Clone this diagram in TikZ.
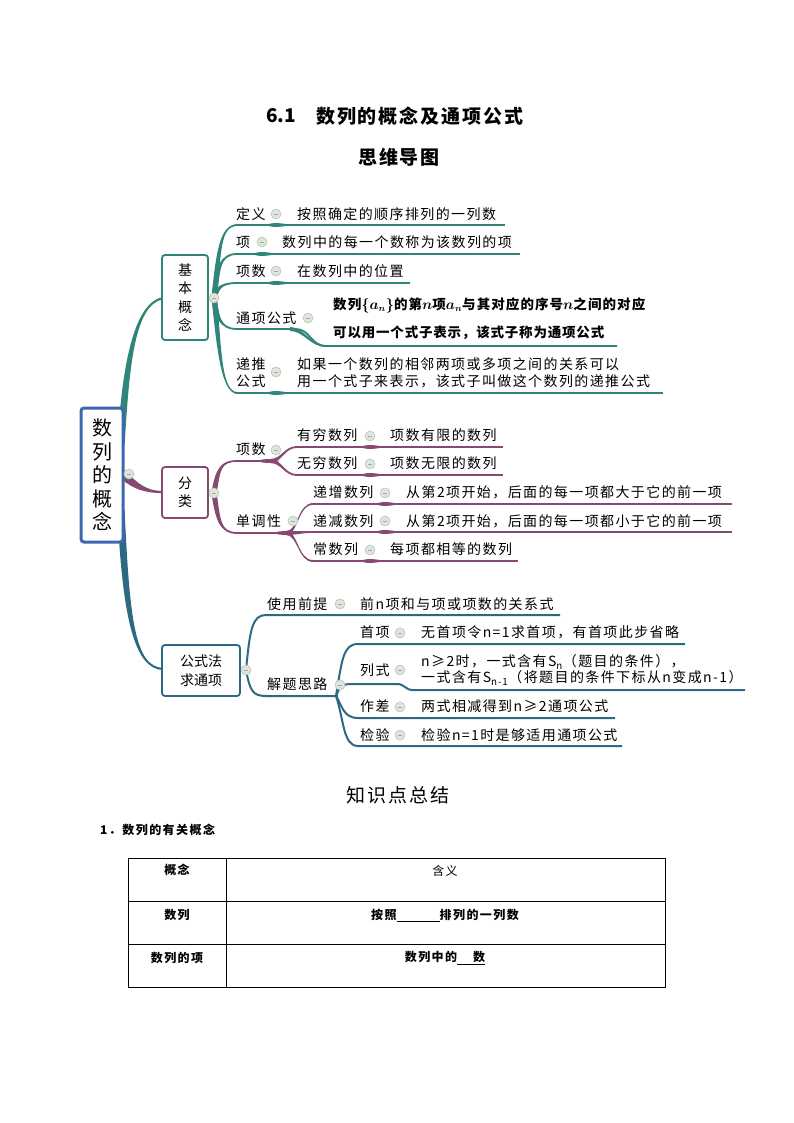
\documentclass[tikz,border=0pt]{standalone}
\usepackage{fontspec}
\usetikzlibrary{calc}
\newfontfamily\cjk{Noto Sans CJK SC}
\newfontfamily\mmf[LetterSpace=10]{Noto Sans CJK SC}
\newfontfamily\mmbf[LetterSpace=8]{Noto Sans CJK SC}
\newfontfamily\mmcf[LetterSpace=6]{Noto Sans CJK SC}
\newfontfamily\ttlf[LetterSpace=10]{Noto Sans CJK SC}
\newfontfamily\tabf[LetterSpace=12]{Noto Sans CJK SC}
\definecolor{rootblue}{RGB}{61,104,176}
\definecolor{tealc}{RGB}{47,133,121}
\definecolor{purc}{RGB}{134,74,114}
\definecolor{bluec}{RGB}{44,106,132}
\definecolor{knobfill}{RGB}{222,230,219}
\definecolor{knobline}{RGB}{184,198,180}
\newcommand\taper[7]{\fill[#1] ($(#2)!#6!90:(#3)$) .. controls ($(#3)!#6!-90:(#2)$) and ($(#4)!#7!90:(#5)$) .. ($(#5)!#7!-90:(#4)$) -- ($(#5)!#7!90:(#4)$) .. controls ($(#4)!#7!-90:(#5)$) and ($(#3)!#6!90:(#2)$) .. ($(#2)!#6!-90:(#3)$) -- cycle;}
\newcommand\spindle[4]{\fill[#1] (#2,#4) .. controls (#2+8,#4-3.5) and (#3-10,#4-1.5) .. (#3,#4) .. controls (#3-10,#4+1.5) and (#2+8,#4+3.5) .. (#2,#4) -- cycle;}
\tikzset{
  mm/.style={font={\mmf\fontsize{14}{17}\selectfont}, inner sep=0pt, anchor=west, align=left},
  mmb/.style={font={\mmbf\bfseries\boldmath\fontsize{13.5}{16}\selectfont}, inner sep=0pt, anchor=west},
  mmc/.style={font={\mmcf\bfseries\fontsize{13.5}{16}\selectfont}, inner sep=0pt, anchor=west},
  knob/.style={circle, minimum size=10pt, inner sep=0pt, fill=knobfill, draw=knobline, line width=0.6pt,
    path picture={\draw[black!35, line width=0.6pt] ([xshift=-2pt]path picture bounding box.center) -- ([xshift=2pt]path picture bounding box.center);}},
  subbox/.style={draw, fill=white, rounded corners=3pt, line width=1.8pt, inner sep=0pt, align=center,
    font={\cjk\fontsize{14}{18.5}\selectfont}},
  uline/.style={line width=1.8pt},
  tabtext/.style={font={\tabf\bfseries\fontsize{12}{14}\selectfont}, inner sep=0pt},
}
\begin{document}
\begin{tikzpicture}[x=1pt,y=-1pt]
\useasboundingbox (0,0) rectangle (794,1123);
\fill[white] (0,0) rectangle (794,1123);
% titles
\node[anchor=west, inner sep=0pt, font={\cjk\bfseries\fontsize{19}{22}\selectfont}] (t1) at (266,116) {6.1};
\node[anchor=west, inner sep=0pt, font={\ttlf\bfseries\fontsize{19}{22}\selectfont}] (t2) at (316,116) {数列的概念及通项公式};
\node[inner sep=0pt, font={\ttlf\bfseries\fontsize{19}{22}\selectfont}] (t3) at (399,157) {思维导图};
% named hubs
\coordinate (hubA) at (214,298);
\coordinate (hubB) at (214,493);
\coordinate (hubC) at (246,670);
% main branches
\taper{tealc}{121,445}{126,360}{135,304}{163,298}{3.6pt}{1.1pt}
\taper{bluec}{121,510}{126,620}{135,668}{163,669}{3.6pt}{1.1pt}
\taper{purc}{124,476}{136,486}{145,492}{163,492}{4pt}{1.1pt}
% ---- teal group
\taper{tealc}{214,298}{219,250}{220,226}{237,225}{2.6pt}{0.9pt}
\taper{tealc}{214,298}{218,270}{219,254}{237,254}{2.6pt}{0.9pt}
\taper{tealc}{214,298}{217,290}{219,283}{237,283}{2.6pt}{0.9pt}
\taper{tealc}{214,298}{217,315}{219,329}{237,329}{2.6pt}{0.9pt}
\taper{tealc}{214,298}{219,340}{220,392}{237,393}{2.6pt}{0.9pt}
\draw[tealc,uline] (235,225) -- (505,225);
\draw[tealc,uline] (235,254) -- (520,254);
\draw[tealc,uline] (235,283) -- (410,283);
\draw[tealc,uline] (235,329) -- (296,329) .. controls (310,329) and (311,346) .. (326,346) -- (617,346);
\draw[tealc,uline] (235,393) -- (663,393);
\spindle{tealc}{266}{292}{225}
\spindle{tealc}{252}{278}{254}
\spindle{tealc}{266}{292}{283}
\taper{tealc}{290,329}{304,329}{310,346}{326,346}{2pt}{0.9pt}
\spindle{tealc}{266}{292}{393}
% ---- purple group
\taper{purc}{214,493}{218,470}{220,461}{237,461}{2.6pt}{0.9pt}
\taper{purc}{214,493}{218,520}{220,533}{237,533}{2.6pt}{0.9pt}
\draw[purc,uline] (235,461) -- (272,461);
\draw[purc,uline] (235,533) -- (290,533);
\spindle{purc}{258}{280}{461}
\spindle{purc}{274}{298}{533}
\taper{purc}{270,461}{282,461}{284,447}{297,447}{2pt}{0.9pt}
\taper{purc}{270,461}{282,461}{284,475}{297,475}{2pt}{0.9pt}
\taper{purc}{286,533}{298,533}{298,504}{313,504}{2pt}{0.9pt}
\taper{purc}{286,533}{298,533}{300,532}{313,532}{2pt}{0.9pt}
\taper{purc}{286,533}{298,533}{298,561}{313,561}{2pt}{0.9pt}
\draw[purc,uline] (295,447) -- (503,447);
\draw[purc,uline] (295,475) -- (503,475);
\draw[purc,uline] (311,504) -- (732,504);
\draw[purc,uline] (311,532) -- (732,532);
\draw[purc,uline] (311,561) -- (518,561);
\spindle{purc}{360}{386}{447}
\spindle{purc}{360}{386}{475}
\spindle{purc}{375}{401}{504}
\spindle{purc}{375}{401}{532}
\spindle{purc}{360}{386}{561}
% ---- blue group
\draw[bluec,line width=2pt] (hubC) .. controls (250,630) and (252,615) .. (266,615) -- (560,615);
\draw[bluec,line width=2pt] (hubC) .. controls (250,690) and (252,696) .. (266,696) -- (338,696);
\coordinate (hubD) at (336,696);
\draw[bluec,line width=2pt] (hubD) .. controls (342,660) and (343,644) .. (358,644) -- (685,644);
\draw[bluec,line width=2pt] (hubD) .. controls (340,686) and (342,684) .. (352,684) -- (397,684) .. controls (405,684) and (405,690) .. (413,690) -- (745,690);
\draw[bluec,line width=2pt] (hubD) .. controls (342,705) and (343,718) .. (358,718) -- (615,718);
\draw[bluec,line width=2pt] (hubD) .. controls (344,720) and (343,746) .. (358,746) -- (622,746);
% ---- boxes
\node[draw=rootblue, fill=white, rounded corners=3pt, line width=3pt, minimum width=42pt, minimum height=134pt, inner sep=0pt, align=center, font={\cjk\fontsize{20}{23.5}\selectfont}] (root) at (102,475) {数\\列\\的\\概\\念};
\node[subbox, draw=tealc, minimum width=46pt, minimum height=85pt] (jb) at (185,297.5) {基\\本\\概\\念};
\node[subbox, draw=purc, minimum width=46pt, minimum height=51pt] (fl) at (185,492.5) {分\\类};
\node[subbox, draw=bluec, minimum width=78pt, minimum height=51pt] (gs) at (201,670.5) {公式法\\求通项};
% knobs
\node[knob] (k0) at (129,474) {};
\node[knob] (kA) at (hubA) {};
\node[knob] (kB) at (hubB) {};
\node[knob] (kC) at (hubC) {};
% ---- teal texts
\node[mm] (a1) at (236,214) {定义};
\node[knob] (ka1) at (276,214) {};
\node[mm] (a1t) at (297,214) {按照确定的顺序排列的一列数};
\node[mm] (a2) at (236,242) {项};
\node[knob] (ka2) at (262,242) {};
\node[mm] (a2t) at (282,242) {数列中的每一个数称为该数列的项};
\node[mm] (a3) at (236,271) {项数};
\node[knob] (ka3) at (276,271) {};
\node[mm] (a3t) at (297,271) {在数列中的位置};
\node[mm] (a4) at (236,318) {通项公式};
\node[knob] (ka4) at (308,318) {};
\node[mmb] (a4t) at (333,305) {数列$\{a_n\}$的第$n$项$a_n$与其对应的序号$n$之间的对应};
\node[mmc] (a4u) at (333,333) {可以用一个式子表示，该式子称为通项公式};
\node[mm] (a5) at (236,372.5) {递推\\公式};
\node[knob] (ka5) at (276,372) {};
\node[mm] (a5t) at (297,372.5) {如果一个数列的相邻两项或多项之间的关系可以\\用一个式子来表示，该式子叫做这个数列的递推公式};
% ---- purple texts
\node[mm] (b1) at (236,449) {项数};
\node[knob] (kb1) at (276,450) {};
\node[mm] (b11) at (297,435) {有穷数列};
\node[knob] (kb11) at (370,436) {};
\node[mm] (b11t) at (390,435) {项数有限的数列};
\node[mm] (b12) at (297,463) {无穷数列};
\node[knob] (kb12) at (370,464) {};
\node[mm] (b12t) at (390,463) {项数无限的数列};
\node[mm] (b2) at (236,521) {单调性};
\node[knob] (kb2) at (293,521) {};
\node[mm] (b21) at (313,492) {递增数列};
\node[knob] (kb21) at (385,493) {};
\node[mm] (b21t) at (406,492) {从第2项开始，后面的每一项都大于它的前一项};
\node[mm] (b22) at (313,521) {递减数列};
\node[knob] (kb22) at (385,521) {};
\node[mm] (b22t) at (406,521) {从第2项开始，后面的每一项都小于它的前一项};
\node[mm] (b23) at (313,549) {常数列};
\node[knob] (kb23) at (370,550) {};
\node[mm] (b23t) at (390,549) {每项都相等的数列};
% ---- blue texts
\node[mm] (c1) at (267,604) {使用前提};
\node[knob] (kc1) at (340,604) {};
\node[mm] (c1t) at (360,604) {前n项和与项或项数的关系式};
\node[mm] (c2) at (267,684) {解题思路};
\node[knob] (kc2) at (340,685) {};
\node[mm] (c21) at (360,632) {首项};
\node[knob] (kc21) at (400,633) {};
\node[mm] (c21t) at (421,632) {无首项令n=1求首项，有首项此步省略};
\node[mm] (c22) at (360,670) {列式};
\node[knob] (kc22) at (400,670) {};
\node[mm, font={\mmf\fontsize{14}{16}\selectfont}] (c22t) at (421,670) {n≥2时，一式含有S\textsubscript{n}（题目的条件），\\一式含有S\textsubscript{n-1}（将题目的条件下标从n变成n-1）};
\node[mm] (c23) at (360,706) {作差};
\node[knob] (kc23) at (400,707) {};
\node[mm] (c23t) at (421,706) {两式相减得到n≥2通项公式};
\node[mm] (c24) at (360,735) {检验};
\node[knob] (kc24) at (400,735) {};
\node[mm] (c24t) at (421,735) {检验n=1时是够适用通项公式};
% ---- summary
\node[inner sep=0pt, font={\ttlf\fontsize{19}{22}\selectfont}] (t4) at (398,795) {知识点总结};
\node[anchor=west, tabtext] (t5) at (100,830) {1．数列的有关概念};
\draw[line width=0.8pt] (128,858) rectangle (665,987);
\draw[line width=0.8pt] (226,858) -- (226,987);
\draw[line width=0.8pt] (128,901) -- (665,901);
\draw[line width=0.8pt] (128,944) -- (665,944);
\node[tabtext] (h1) at (177,870) {概念};
\node[tabtext, font={\tabf\fontsize{12}{14}\selectfont}] (h2) at (445,871) {含义};
\node[tabtext] (r1) at (177,915) {数列};
\node[tabtext] (r1t) at (445,915) {按照\rule[-2pt]{43pt}{0.6pt}排列的一列数};
\node[tabtext] (r2) at (177,958) {数列的项};
\node[tabtext] (r2t) at (445,958) {数列中的\underline{\hspace{16pt}数}};
\end{tikzpicture}
\end{document}
